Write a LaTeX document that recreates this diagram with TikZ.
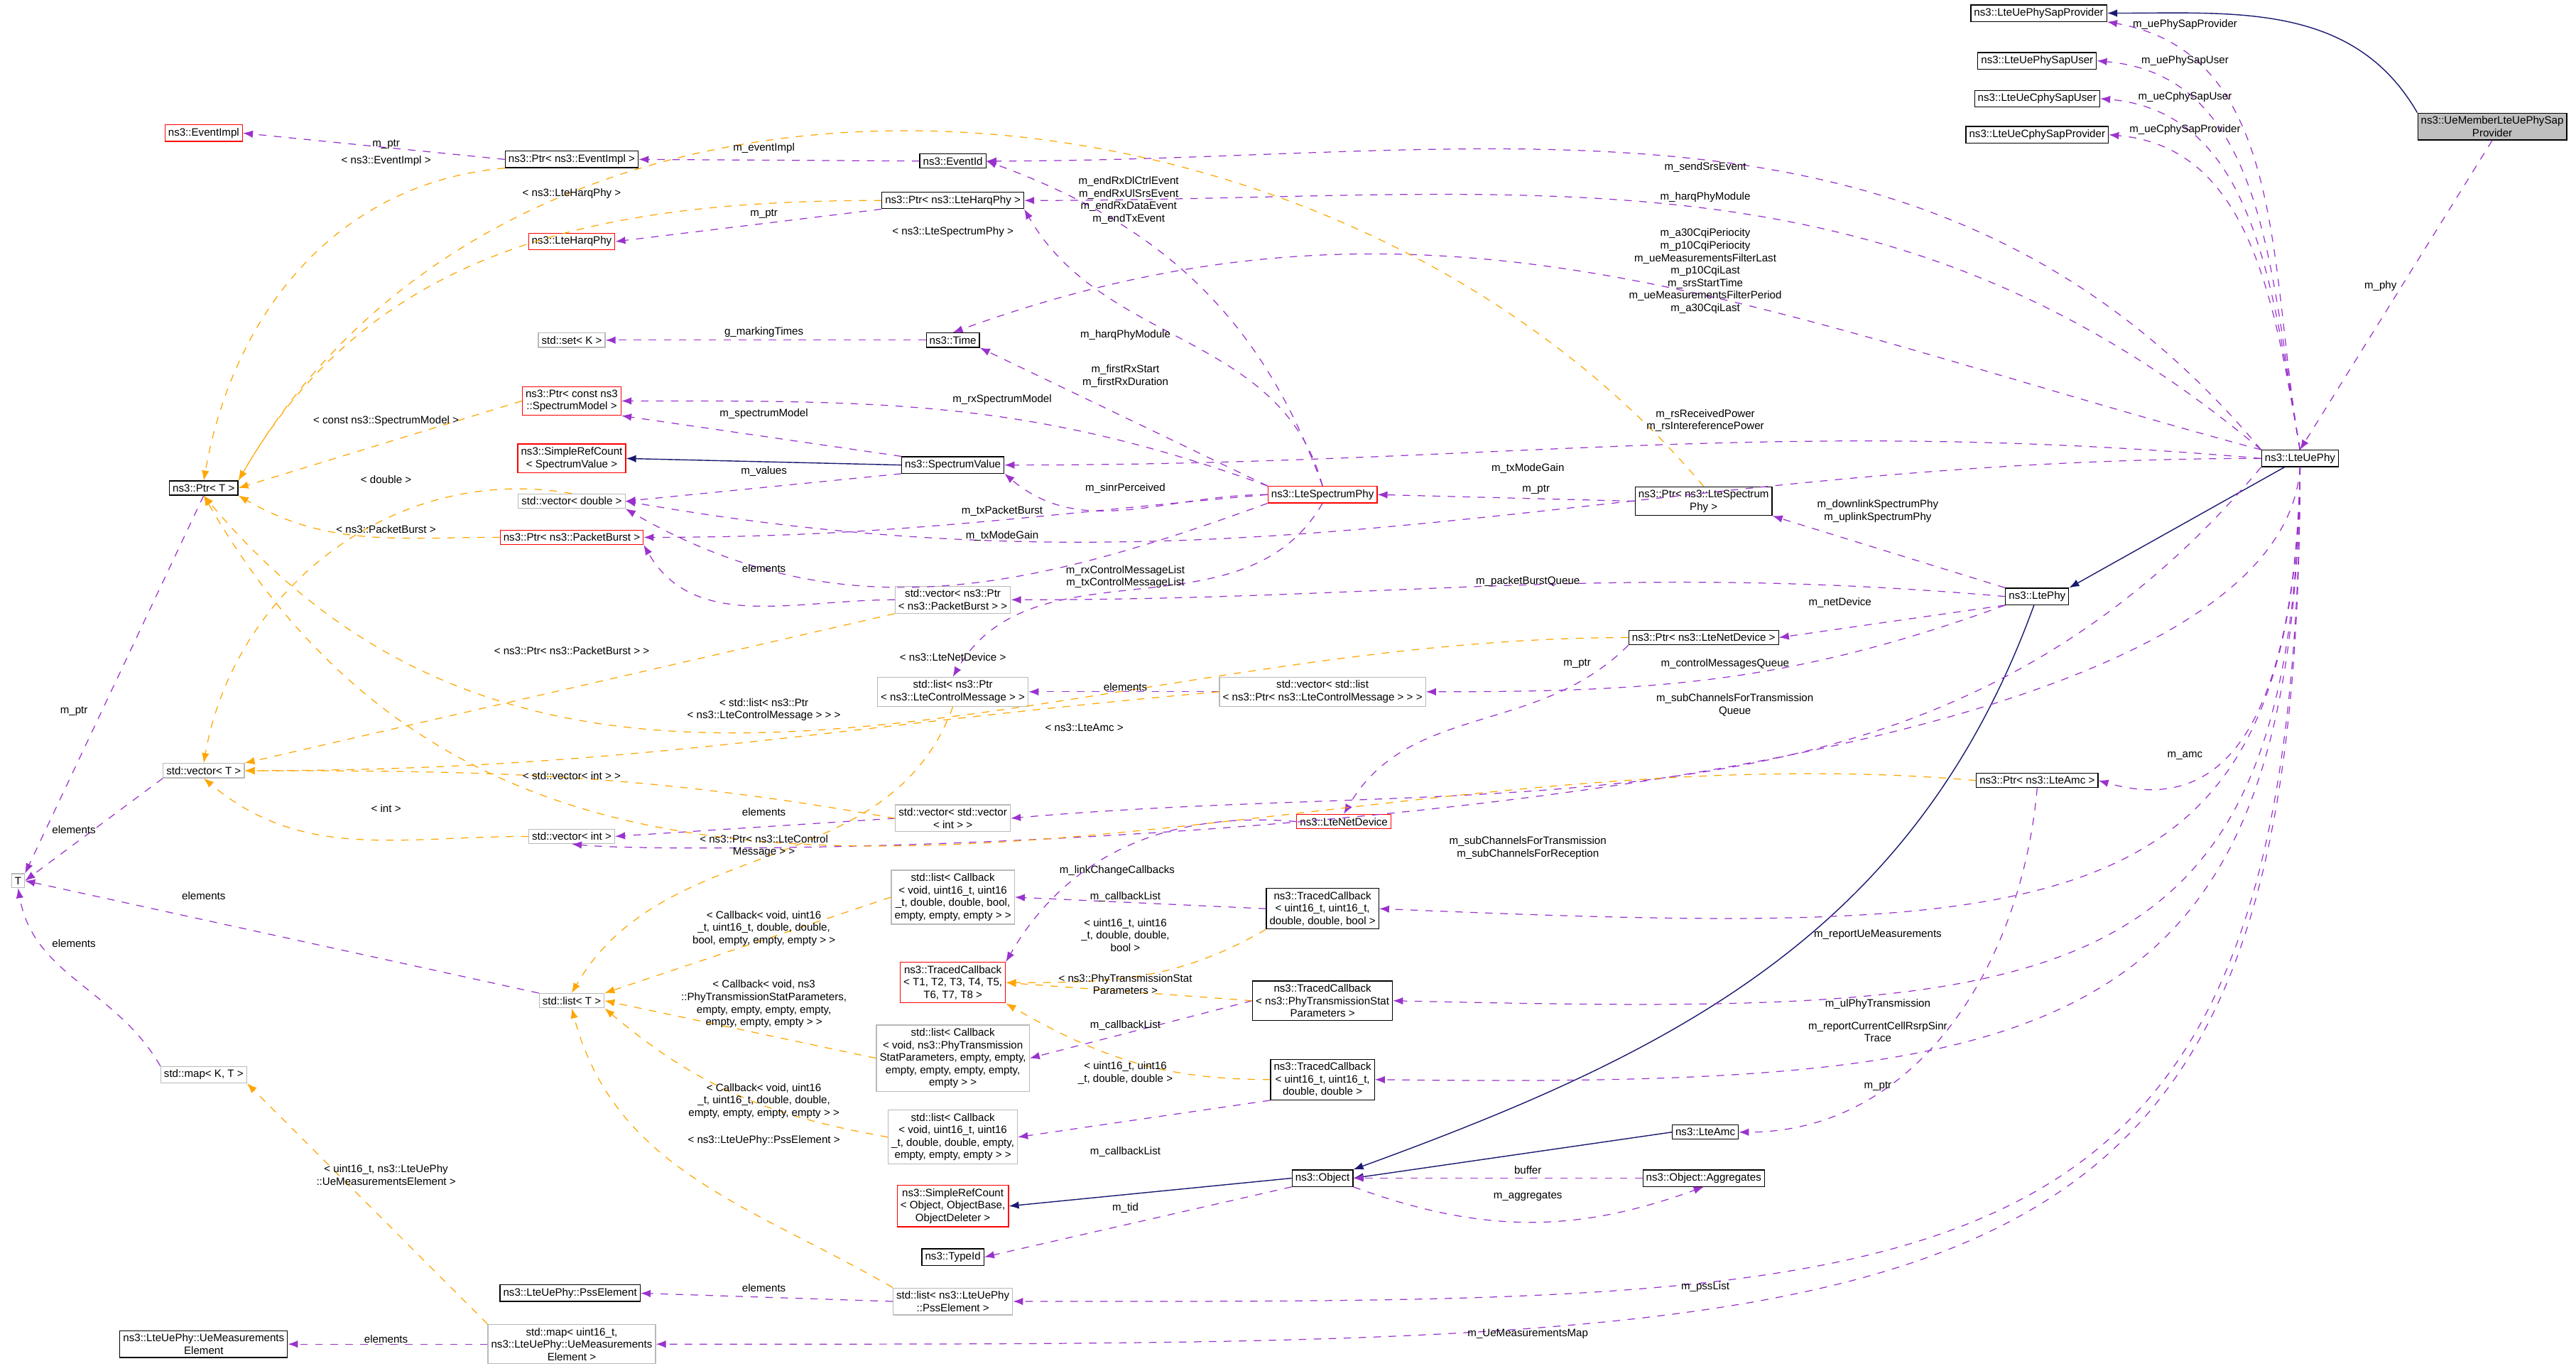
\documentclass[tikz,border=0pt]{standalone}
\usepackage{fontspec}
\setmainfont{Liberation Sans}
\usetikzlibrary{arrows.meta}
\definecolor{usecol}{HTML}{9A32CD}
\definecolor{tplcol}{HTML}{FFA500}
\definecolor{inhcol}{HTML}{191970}
\begin{document}
\begin{tikzpicture}[x=0.02313cm,y=-0.02313cm,
  font=\fontsize{4.3}{5}\selectfont,
  cls/.style={draw, fill=white, line width=0.35pt, inner sep=1.3pt, align=center},
  tpl/.style={cls, draw=gray!55},
  miss/.style={cls, draw=red},
  cur/.style={cls, fill=gray!50},
  use/.style={-{Latex[length=4pt,width=3pt]}, dashed, usecol, line width=0.35pt},
  inst/.style={-{Latex[length=4pt,width=3pt]}, dashed, tplcol, line width=0.35pt},
  inh/.style={-{Latex[length=4pt,width=3pt]}, inhcol, line width=0.4pt},
  lbl/.style={align=center, inner sep=0.5pt}
]
  \useasboundingbox (0,0) rectangle (1568,834);

  % classes, right column
  \node[cur]  (uemember) at (1517,77)  {ns3::UeMemberLteUePhySap\\Provider};
  \node[cls]  (sapprov)  at (1241,8)   {ns3::LteUePhySapProvider};
  \node[cls]  (sapuser)  at (1240,37)  {ns3::LteUePhySapUser};
  \node[cls]  (csapuser) at (1240,60)  {ns3::LteUeCphySapUser};
  \node[cls]  (csapprov) at (1240,82)  {ns3::LteUeCphySapProvider};
  \node[cls]  (uephy)    at (1400,279) {ns3::LteUePhy};
  \node[cls]  (ltephy)   at (1240,363) {ns3::LtePhy};
  \node[cls]  (ptramc)   at (1240,475) {ns3::Ptr< ns3::LteAmc >};
  \node[cls]  (ptrsphy)  at (1037,305) {ns3::Ptr< ns3::LteSpectrum\\Phy >};
  \node[cls]  (ptrnet)   at (1037,388) {ns3::Ptr< ns3::LteNetDevice >};
  \node[cls]  (lteamc)   at (1038,689) {ns3::LteAmc};
  \node[cls]  (aggr)     at (1037,717) {ns3::Object::Aggregates};

  % middle column
  \node[miss] (sphy)     at (805,301)  {ns3::LteSpectrumPhy};
  \node[tpl]  (veclst)   at (805,421)  {std::vector< std::list\\< ns3::Ptr< ns3::LteControlMessage > > >};
  \node[miss] (netdev)   at (818,500)  {ns3::LteNetDevice};
  \node[cls]  (tcbool)   at (805,553)  {ns3::TracedCallback\\< uint16\_t, uint16\_t,\\double, double, bool >};
  \node[cls]  (tcstat)   at (805,609)  {ns3::TracedCallback\\< ns3::PhyTransmissionStat\\Parameters >};
  \node[cls]  (tcdbl)    at (805,657)  {ns3::TracedCallback\\< uint16\_t, uint16\_t,\\double, double >};
  \node[cls]  (object)   at (805,717)  {ns3::Object};

  \node[cls]  (eventid)  at (580,98)   {ns3::EventId};
  \node[cls]  (ptrharq)  at (580,122)  {ns3::Ptr< ns3::LteHarqPhy >};
  \node[cls]  (timen)    at (580,207)  {ns3::Time};
  \node[cls]  (specval)  at (580,283)  {ns3::SpectrumValue};
  \node[tpl]  (vecpb)    at (580,365)  {std::vector< ns3::Ptr\\< ns3::PacketBurst > >};
  \node[tpl]  (lstlcm)   at (580,421)  {std::list< ns3::Ptr\\< ns3::LteControlMessage > >};
  \node[tpl]  (vecvec)   at (580,498)  {std::vector< std::vector\\< int > >};
  \node[tpl]  (cbbool)   at (580,546)  {std::list< Callback\\< void, uint16\_t, uint16\\\_t, double, double, bool,\\empty, empty, empty > >};
  \node[miss] (tcT)      at (580,598)  {ns3::TracedCallback\\< T1, T2, T3, T4, T5,\\T6, T7, T8 >};
  \node[tpl]  (cbstat)   at (580,644)  {std::list< Callback\\< void, ns3::PhyTransmission\\StatParameters, empty, empty,\\empty, empty, empty, empty,\\empty > >};
  \node[tpl]  (cbdbl)    at (580,692)  {std::list< Callback\\< void, uint16\_t, uint16\\\_t, double, double, empty,\\empty, empty, empty > >};
  \node[miss] (srcobj)   at (580,734)  {ns3::SimpleRefCount\\< Object, ObjectBase,\\ObjectDeleter >};
  \node[cls]  (typeid)   at (580,765)  {ns3::TypeId};
  \node[tpl]  (pssl)     at (580,792)  {std::list< ns3::LteUePhy\\::PssElement >};

  % left columns
  \node[cls]  (ptrevi)   at (348,97)   {ns3::Ptr< ns3::EventImpl >};
  \node[miss] (harq)     at (348,147)  {ns3::LteHarqPhy};
  \node[tpl]  (setk)     at (348,207)  {std::set< K >};
  \node[miss] (ptrsm)    at (348,244)  {ns3::Ptr< const ns3\\::SpectrumModel >};
  \node[miss] (srcsv)    at (348,279)  {ns3::SimpleRefCount\\< SpectrumValue >};
  \node[tpl]  (vecdbl)   at (348,305)  {std::vector< double >};
  \node[miss] (ptrpb)    at (348,327)  {ns3::Ptr< ns3::PacketBurst >};
  \node[tpl]  (vecint)   at (348,509)  {std::vector< int >};
  \node[tpl]  (lstT)     at (348,609)  {std::list< T >};
  \node[cls]  (psselem)  at (347,787)  {ns3::LteUePhy::PssElement};
  \node[tpl]  (uemap)    at (348,818)  {std::map< uint16\_t,\\ns3::LteUePhy::UeMeasurements\\Element >};
  \node[miss] (eventimpl) at (124,81)  {ns3::EventImpl};
  \node[cls]  (ptrT)     at (124,297)  {ns3::Ptr< T >};
  \node[tpl]  (vecT)     at (124,469)  {std::vector< T >};
  \node[tpl]  (mapKT)    at (124,654)  {std::map< K, T >};
  \node[cls]  (uemeasel) at (124,818)  {ns3::LteUePhy::UeMeasurements\\Element};
  \node[tpl]  (tT)       at (11,536)   {T};

  % inheritance
  \draw[inh] (uemember.north west) to[out=120,in=0] (sapprov.east);
  \draw[inh] (uephy) -- (ltephy.north east);
  \draw[inh] (ltephy) to[out=-110,in=20] (object.north east);
  \draw[inh] (lteamc.west) -- (object.east);
  \draw[inh] (specval.west) -- (srcsv.east);
  \draw[inh] (object.west) -- (srcobj.east);

  % members of LteUePhy
  \draw[use] (uephy.north) to[out=100,in=-10] (sapprov.south east);
  \draw[use] (uephy.north) to[out=100,in=-5] (sapuser.east);
  \draw[use] (uephy.north) to[out=100,in=-5] (csapuser.east);
  \draw[use] (uephy.north) to[out=100,in=-5] (csapprov.east);
  \draw[use] (uemember.south) -- (uephy.north);
  \draw[use] (uephy.north west) to[out=130,in=0] (eventid.east);
  \draw[use] (uephy.north west) to[out=140,in=0] (ptrharq.east);
  \draw[use] (uephy.north west) to[out=165,in=20] (timen.north);
  \draw[use] (uephy.west) to[out=175,in=0] (specval.east);
  \draw[use] (uephy.west) to[out=180,in=-10] (vecdbl.east);
  \draw[use] (uephy.south west) to[out=-130,in=5] (vecvec.east);
  \draw[use] (uephy.south) .. controls (1385,516) and (430,522) .. (vecint.south);
  \draw[use] (uephy.south) .. controls (1396,568) and (1250,570) .. (tcbool.east);
  \draw[use] (uephy.south) .. controls (1396,614) and (1250,618) .. (tcstat.east);
  \draw[use] (uephy.south) .. controls (1396,636) and (1250,662) .. (tcdbl.east);
  \draw[use] (uephy.south) .. controls (1396,480) and (1330,490) .. (ptramc.east);
  \draw[use] (uephy.south) .. controls (1398,800) and (1200,792) .. (pssl.east);
  \draw[use] (uephy.south) .. controls (1400,826) and (1200,818) .. (uemap.east);

  % members of LtePhy and friends
  \draw[use] (ltephy.north west) -- (ptrsphy.south east);
  \draw[use] (ltephy.west) to[out=175,in=0] (vecpb.east);
  \draw[use] (ltephy.south west) -- (ptrnet.east);
  \draw[use] (ltephy.south west) to[out=-160,in=0] (veclst.east);
  \draw[use] (ptrsphy.west) -- (sphy.east);
  \draw[use] (ptrnet.south west) to[out=-135,in=60] (netdev.north);
  \draw[use] (ptramc.south) to[out=-95,in=0] (lteamc.east);

  % members of LteSpectrumPhy
  \draw[use] (sphy.north) to[out=110,in=-20] (eventid.east);
  \draw[use] (sphy.north) to[out=105,in=-60] (ptrharq.south east);
  \draw[use] (sphy.north west) -- (timen.south east);
  \draw[use] (sphy.north west) to[out=160,in=0] (ptrsm.east);
  \draw[use] (sphy.west) to[out=180,in=-40] (specval.south east);
  \draw[use] (sphy.west) to[out=185,in=0] (ptrpb.east);
  \draw[use] (sphy.south west) to[out=-160,in=-30] (vecdbl.south east);
  \draw[use] (sphy.south) to[out=-120,in=60] (lstlcm.north);

  % other members
  \draw[use] (ptrevi.west) -- (eventimpl.east);
  \draw[use] (eventid.west) -- (ptrevi.east);
  \draw[use] (ptrharq.south west) -- (harq.east);
  \draw[use] (timen.west) -- (setk.east);
  \draw[use] (specval.north west) -- (ptrsm.south east);
  \draw[use] (specval.south west) -- (vecdbl.east);
  \draw[use] (vecpb.west) to[out=180,in=-60] (ptrpb.south east);
  \draw[use] (veclst.west) -- (lstlcm.east);
  \draw[use] (vecvec.west) -- (vecint.east);
  \draw[use] (netdev.west) to[out=175,in=60] (tcT.north east);
  \draw[use] (tcbool.west) -- (cbbool.east);
  \draw[use] (tcstat.west) -- (cbstat.east);
  \draw[use] (tcdbl.south west) -- (cbdbl.east);
  \draw[use] (aggr.west) -- (object.east);
  \draw[use] (object.south east) to[out=-20,in=-160] (aggr.south);
  \draw[use] (object.south west) -- (typeid.east);
  \draw[use] (pssl.west) -- (psselem.east);
  \draw[use] (uemap.west) -- (uemeasel.east);
  \draw[use] (ptrT.south) -- (tT.north east);
  \draw[use] (vecT.south west) -- (tT.east);
  \draw[use] (lstT.north west) -- (tT.east);
  \draw[use] (mapKT.north west) to[out=120,in=-80] (tT.south);

  % template instances
  \draw[inst] (ptrevi.south west) to[out=185,in=80] (ptrT.north);
  \draw[inst] (ptrharq.west) to[out=180,in=60] (ptrT.north east);
  \draw[inst] (ptrsphy.north) to[out=130,in=60] (ptrT.north east);
  \draw[inst] (ptrsm.west) -- (ptrT.east);
  \draw[inst] (ptrpb.west) to[out=180,in=-30] (ptrT.south east);
  \draw[inst] (ptrnet.west) to[out=180,in=-50] (ptrT.south);
  \draw[inst] (ptramc.west) to[out=175,in=-60] (ptrT.south);
  \draw[inst] (vecdbl.north) to[out=170,in=80] (vecT.north);
  \draw[inst] (vecpb.south west) -- (vecT.north east);
  \draw[inst] (veclst.west) to[out=185,in=0] (vecT.east);
  \draw[inst] (vecvec.west) to[out=170,in=0] (vecT.east);
  \draw[inst] (vecint.west) to[out=180,in=-40] (vecT.south);
  \draw[inst] (lstlcm.south) to[out=-110,in=60] (lstT.north);
  \draw[inst] (cbbool.west) -- (lstT.north east);
  \draw[inst] (cbstat.west) -- (lstT.east);
  \draw[inst] (cbdbl.west) to[out=170,in=-40] (lstT.south east);
  \draw[inst] (pssl.north west) to[out=150,in=-75] (lstT.south);
  \draw[inst] (uemap.north west) -- (mapKT.south east);
  \draw[inst] (tcbool.south west) to[out=-150,in=0] (tcT.east);
  \draw[inst] (tcstat.west) -- (tcT.east);
  \draw[inst] (tcdbl.west) to[out=180,in=-30] (tcT.south east);

  % labels
  \node[lbl] at (1330,15)  {m\_uePhySapProvider};
  \node[lbl] at (1330,37)  {m\_uePhySapUser};
  \node[lbl] at (1330,59)  {m\_ueCphySapUser};
  \node[lbl] at (1330,79)  {m\_ueCphySapProvider};
  \node[lbl] at (1449,174) {m\_phy};
  \node[lbl] at (1038,102) {m\_sendSrsEvent};
  \node[lbl] at (1038,120) {m\_harqPhyModule};
  \node[lbl] at (1038,165) {m\_a30CqiPeriocity\\m\_p10CqiPeriocity\\m\_ueMeasurementsFilterLast\\m\_p10CqiLast\\m\_srsStartTime\\m\_ueMeasurementsFilterPeriod\\m\_a30CqiLast};
  \node[lbl] at (1038,256) {m\_rsReceivedPower\\m\_rsIntereferencePower};
  \node[lbl] at (930,285)  {m\_txModeGain};
  \node[lbl] at (1143,311) {m\_downlinkSpectrumPhy\\m\_uplinkSpectrumPhy};
  \node[lbl] at (930,354)  {m\_packetBurstQueue};
  \node[lbl] at (1120,367) {m\_netDevice};
  \node[lbl] at (960,404)  {m\_ptr};
  \node[lbl] at (1050,404) {m\_controlMessagesQueue};
  \node[lbl] at (1056,429) {m\_subChannelsForTransmission\\Queue};
  \node[lbl] at (660,443)  {< ns3::LteAmc >};
  \node[lbl] at (1330,460) {m\_amc};
  \node[lbl] at (930,516)  {m\_subChannelsForTransmission\\m\_subChannelsForReception};
  \node[lbl] at (1143,569) {m\_reportUeMeasurements};
  \node[lbl] at (1143,611) {m\_ulPhyTransmission};
  \node[lbl] at (1143,628) {m\_reportCurrentCellRsrpSinr\\Trace};
  \node[lbl] at (1143,661) {m\_ptr};
  \node[lbl] at (1038,783) {m\_pssList};
  \node[lbl] at (930,812)  {m\_UeMeasurementsMap};
  \node[lbl] at (935,298)  {m\_ptr};
  \node[lbl] at (687,122)  {m\_endRxDlCtrlEvent\\m\_endRxUlSrsEvent\\m\_endRxDataEvent\\m\_endTxEvent};
  \node[lbl] at (685,204)  {m\_harqPhyModule};
  \node[lbl] at (685,229)  {m\_firstRxStart\\m\_firstRxDuration};
  \node[lbl] at (610,243)  {m\_rxSpectrumModel};
  \node[lbl] at (465,252)  {m\_spectrumModel};
  \node[lbl] at (465,287)  {m\_values};
  \node[lbl] at (685,297)  {m\_sinrPerceived};
  \node[lbl] at (610,311)  {m\_txPacketBurst};
  \node[lbl] at (610,326)  {m\_txModeGain};
  \node[lbl] at (685,351)  {m\_rxControlMessageList\\m\_txControlMessageList};
  \node[lbl] at (465,346)  {elements};
  \node[lbl] at (465,90)   {m\_eventImpl};
  \node[lbl] at (235,88)   {m\_ptr};
  \node[lbl] at (465,130)  {m\_ptr};
  \node[lbl] at (465,202)  {g\_markingTimes};
  \node[lbl] at (235,98)   {< ns3::EventImpl >};
  \node[lbl] at (348,118)  {< ns3::LteHarqPhy >};
  \node[lbl] at (580,141)  {< ns3::LteSpectrumPhy >};
  \node[lbl] at (235,256)  {< const ns3::SpectrumModel >};
  \node[lbl] at (235,292)  {< double >};
  \node[lbl] at (235,322)  {< ns3::PacketBurst >};
  \node[lbl] at (348,396)  {< ns3::Ptr< ns3::PacketBurst > >};
  \node[lbl] at (580,400)  {< ns3::LteNetDevice >};
  \node[lbl] at (685,418)  {elements};
  \node[lbl] at (465,432)  {< std::list< ns3::Ptr\\< ns3::LteControlMessage > > >};
  \node[lbl] at (348,472)  {< std::vector< int > >};
  \node[lbl] at (235,492)  {< int >};
  \node[lbl] at (465,494)  {elements};
  \node[lbl] at (465,515)  {< ns3::Ptr< ns3::LteControl\\Message > >};
  \node[lbl] at (680,530)  {m\_linkChangeCallbacks};
  \node[lbl] at (685,546)  {m\_callbackList};
  \node[lbl] at (685,569)  {< uint16\_t, uint16\\\_t, double, double,\\bool >};
  \node[lbl] at (685,599)  {< ns3::PhyTransmissionStat\\Parameters >};
  \node[lbl] at (685,624)  {m\_callbackList};
  \node[lbl] at (685,653)  {< uint16\_t, uint16\\\_t, double, double >};
  \node[lbl] at (685,701)  {m\_callbackList};
  \node[lbl] at (685,735)  {m\_tid};
  \node[lbl] at (930,712)  {buffer};
  \node[lbl] at (930,728)  {m\_aggregates};
  \node[lbl] at (465,784)  {elements};
  \node[lbl] at (235,815)  {elements};
  \node[lbl] at (465,565)  {< Callback< void, uint16\\\_t, uint16\_t, double, double,\\bool, empty, empty, empty > >};
  \node[lbl] at (465,611)  {< Callback< void, ns3\\::PhyTransmissionStatParameters,\\empty, empty, empty, empty,\\empty, empty, empty > >};
  \node[lbl] at (465,670)  {< Callback< void, uint16\\\_t, uint16\_t, double, double,\\empty, empty, empty, empty > >};
  \node[lbl] at (465,694)  {< ns3::LteUePhy::PssElement >};
  \node[lbl] at (235,715)  {< uint16\_t, ns3::LteUePhy\\::UeMeasurementsElement >};
  \node[lbl] at (45,433)   {m\_ptr};
  \node[lbl] at (45,505)   {elements};
  \node[lbl] at (124,545)  {elements};
  \node[lbl] at (45,574)   {elements};
\end{tikzpicture}
\end{document}
